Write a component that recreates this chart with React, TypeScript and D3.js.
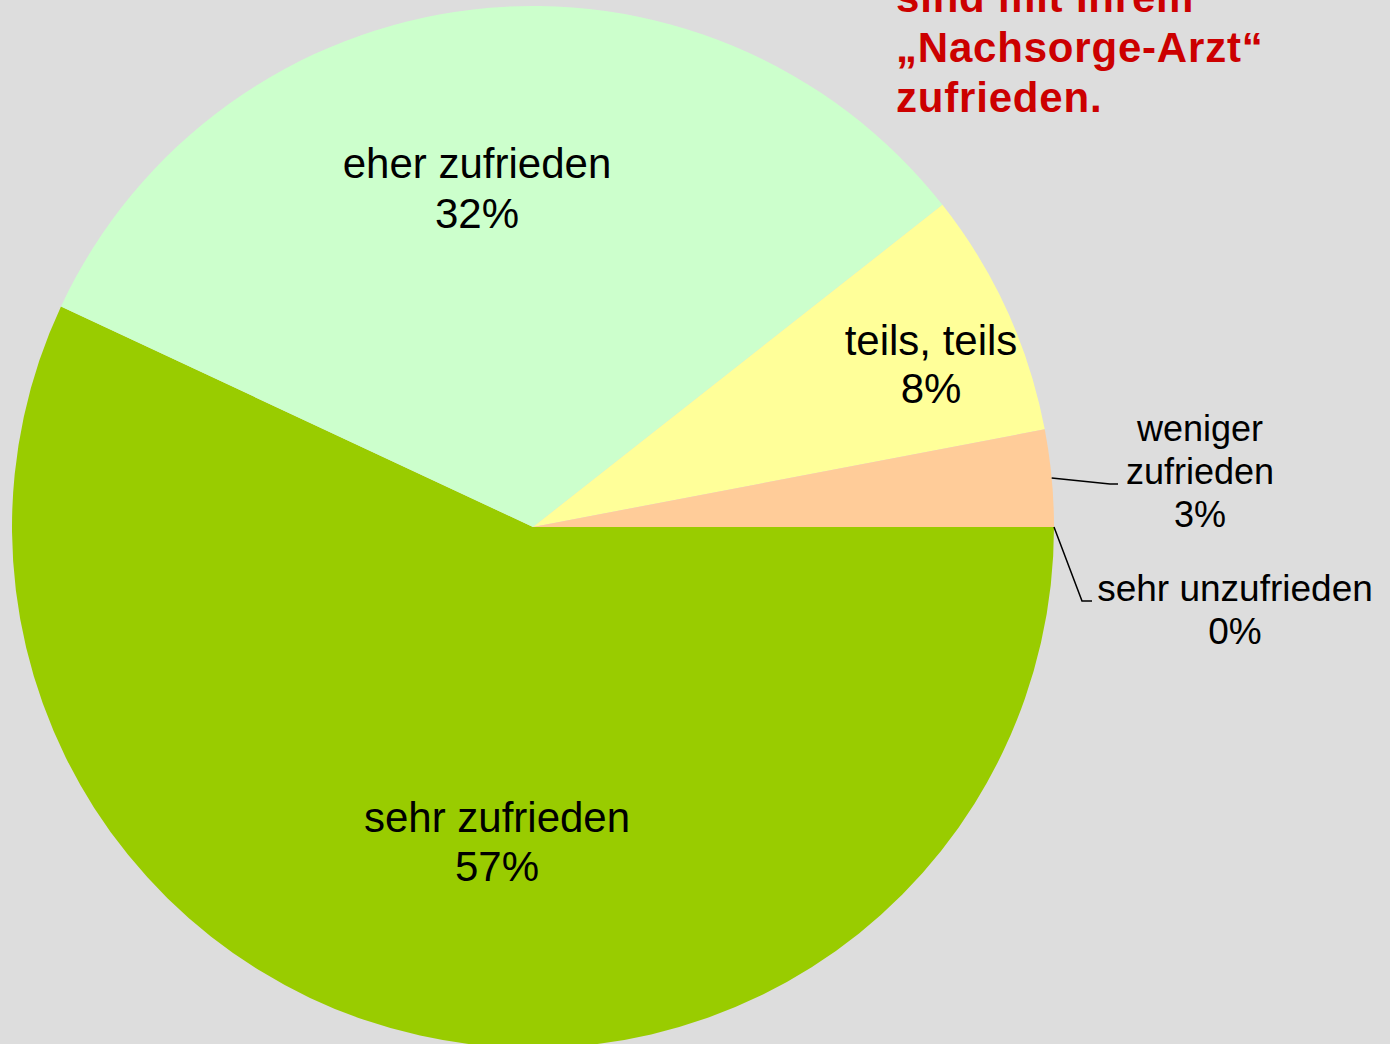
import React from "react";
import * as d3 from "d3";

const categories = ["sehr zufrieden", "eher zufrieden", "teils, teils", "weniger zufrieden", "sehr unzufrieden"];
const values = [56.9, 32.4, 7.6, 3.0, 0];
const percentLabels = ["57%", "32%", "8%", "3%", "0%"];
const labelLines = [["sehr zufrieden"], ["eher zufrieden"], ["teils, teils"], ["weniger", "zufrieden"], ["sehr unzufrieden"]];
const colors = ["#99cc00", "#ccffcc", "#ffff99", "#ffcc99", "#ff9900"];
const titleLines = ["sind mit Ihrem", "„Nachsorge-Arzt“", "zufrieden."];

const W = 1390, H = 1044;
const cx = 533, cy = 527, R = 521;

const labelLayout: any[] = [
  { x: 497, y: 832, fs: 42, lh: 49 },
  { x: 477, y: 178, fs: 42, lh: 50 },
  { x: 931, y: 355, fs: 42, lh: 48 },
  { x: 1200, y: 441, fs: 36, lh: 43, elbow: [1110, 484], end: 1118 },
  { x: 1235, y: 601, fs: 37, lh: 43, elbow: [1082, 601], end: 1092 },
];

export default function App() {
  const pie = d3.pie<number>().sort(null).startAngle(Math.PI / 2).endAngle(Math.PI / 2 + 2 * Math.PI);
  const arcs = pie(values);
  const arc = d3.arc<d3.PieArcDatum<number>>().innerRadius(0).outerRadius(R);
  return (
    <svg width={W} height={H} style={{ position: "absolute", left: 0, top: 0, background: "#dddddd" }}
      fontFamily="'Liberation Sans', Arial, sans-serif">
      <rect x={0} y={0} width={W} height={H} fill="#dddddd" />
      <g transform={`translate(${cx},${cy})`}>
        {arcs.map((a, i) => (
          a.endAngle > a.startAngle ? <path key={i} d={arc(a) || ""} fill={colors[i]} /> : null
        ))}
      </g>
      {arcs.map((a, i) => {
        const L = labelLayout[i];
        const lines = [...labelLines[i], percentLabels[i]];
        const mid = (a.startAngle + a.endAngle) / 2;
        const px = cx + R * Math.sin(mid);
        const py = cy - R * Math.cos(mid);
        return (
          <g key={i}>
            {L.elbow && (
              <polyline points={`${px},${py} ${L.elbow[0]},${L.elbow[1]} ${L.end},${L.elbow[1]}`}
                fill="none" stroke="#000" strokeWidth={1.5} />
            )}
            <text textAnchor="middle" fontSize={L.fs} fill="#000">
              {lines.map((t, j) => (
                <tspan key={j} x={L.x} y={L.y + j * L.lh}>{t}</tspan>
              ))}
            </text>
          </g>
        );
      })}
      <text fontSize={42} fontWeight="bold" fill="#cc0000" letterSpacing={0.8}>
        {titleLines.map((t, j) => (
          <tspan key={j} x={896} y={12 + j * 50}>{t}</tspan>
        ))}
      </text>
    </svg>
  );
}
